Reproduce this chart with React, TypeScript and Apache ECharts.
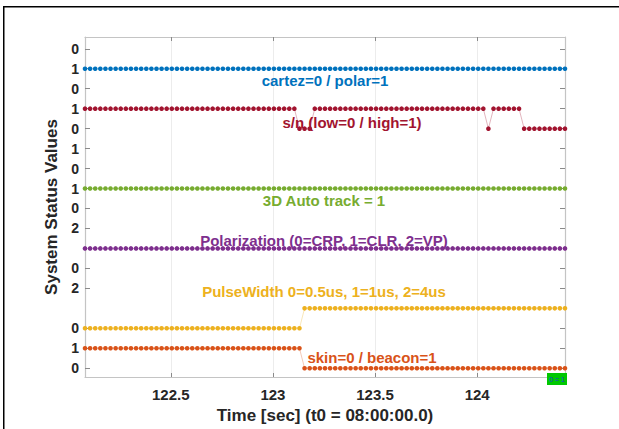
import React, { useEffect, useRef } from "react";
import * as echarts from "echarts";

// Sampling grid (uniform 40 Hz status samples)
const T_START = 122.08;
const T_STEP = 0.025;
const N_SAMPLES = 95;

// Status values as run-lengths: [value, number of samples]
const cartezPolarRuns: [number, number][] = [[1, 95]];
const snRuns: [number, number][] = [[1, 42], [0, 3], [1, 34], [0, 1], [1, 6], [0, 9]];
const autoTrackRuns: [number, number][] = [[1, 95]];
const polarizationRuns: [number, number][] = [[1, 95]];
const pulseWidthRuns: [number, number][] = [[0, 43], [1, 52]];
const skinBeaconRuns: [number, number][] = [[1, 43], [0, 52]];

// Stack offsets of each status trace on the shared axis
const seriesNames = ["cartez/polar", "s/n", "3D Auto track", "Polarization", "PulseWidth", "skin/beacon"];
const seriesOffsets = [14, 12, 8, 5, 2, 0];
const seriesColors = ["#0072BD", "#A2142F", "#77AC30", "#7E2F8E", "#EDB120", "#D95319"];

// Y tick positions and their labels
const yTickValues = [0, 1, 2, 4, 5, 7, 8, 9, 10, 11, 12, 13, 14, 15, 16];
const yTickLabels = ["0", "1", "0", "2", "0", "2", "0", "1", "0", "1", "0", "1", "0", "1", "0"];

// X ticks
const xTickValues = [122.5, 123, 123.5, 124];
const xTickLabels = ["122.5", "123", "123.5", "124"];

// Annotations
const annotationTexts = [
  "cartez=0 / polar=1",
  "s/n (low=0 / high=1)",
  "3D Auto track = 1",
  "Polarization (0=CRP, 1=CLR, 2=VP)",
  "PulseWidth 0=0.5us, 1=1us, 2=4us",
  "skin=0 / beacon=1",
];

const times: number[] = [];
for (let i = 0; i < N_SAMPLES; i++) times.push(+(T_START + i * T_STEP).toFixed(3));

function expandRuns(runs: [number, number][]): number[] {
  const out: number[] = [];
  runs.forEach(([v, n]) => {
    for (let k = 0; k < n; k++) out.push(v);
  });
  return out;
}

const allValues = [
  expandRuns(cartezPolarRuns),
  expandRuns(snRuns),
  expandRuns(autoTrackRuns),
  expandRuns(polarizationRuns),
  expandRuns(pulseWidthRuns),
  expandRuns(skinBeaconRuns),
];

const FONT = "'Liberation Sans', Arial, Helvetica, sans-serif";

export default function App() {
  const ref = useRef<HTMLDivElement>(null);

  useEffect(() => {
    if (!ref.current) return;
    const chart = echarts.init(ref.current, undefined, { renderer: "svg" });

    const axisLineStyle = { color: "#c4c4c4", width: 1.2 };
    const tickStyle = { color: "#8a8a8a", width: 1 };

    const series: any[] = allValues.map((vals, si) => ({
      name: seriesNames[si],
      type: "line",
      data: times.map((t, i) => [t, vals[i] + seriesOffsets[si]]),
      symbol: "circle",
      symbolSize: 4.6,
      showSymbol: true,
      itemStyle: { color: seriesColors[si] },
      lineStyle: { color: seriesColors[si], width: 0.7, opacity: 0.45 },
      emphasis: { disabled: true },
      z: 3,
    }));

    const annoPos = [
      [325, 80],
      [352, 122],
      [324, 200],
      [324, 240],
      [324, 291],
      [372, 357],
    ];

    const graphics: any[] = annotationTexts.map((txt, i) => ({
      type: "text",
      x: annoPos[i][0],
      y: annoPos[i][1],
      silent: true,
      z: 10,
      style: {
        text: txt,
        fill: seriesColors[i],
        font: `bold 15px ${FONT}`,
        textAlign: "center",
        textVerticalAlign: "middle",
      },
    }));

    graphics.push({
      type: "rect",
      silent: true,
      z: 1,
      shape: { x: 3.75, y: 6.75, width: 800, height: 600 },
      style: { fill: "none", stroke: "#000", lineWidth: 1.5 },
    });
    graphics.push({
      type: "rect",
      silent: true,
      z: 11,
      shape: { x: 547, y: 373, width: 20, height: 12 },
      style: { fill: "#00C800", stroke: "none" },
    });
    graphics.push({
      type: "text",
      silent: true,
      z: 12,
      x: 557,
      y: 379.5,
      style: {
        text: "0 = 1",
        fill: "#1a3bd6",
        font: `7px ${FONT}`,
        textAlign: "center",
        textVerticalAlign: "middle",
      },
    });

    chart.setOption({
      animation: false,
      backgroundColor: "#ffffff",
      grid: { left: 85, top: 37, width: 480, height: 345, containLabel: false },
      xAxis: [
        {
          type: "value",
          position: "bottom",
          min: times[0],
          max: times[times.length - 1],
          name: "Time [sec] (t0 = 08:00:00.0)",
          nameLocation: "middle",
          nameGap: 30,
          nameTextStyle: { fontFamily: FONT, fontWeight: "bold", fontSize: 17, color: "#262626" },
          axisLine: { show: true, onZero: false, lineStyle: axisLineStyle },
          axisTick: { show: true, inside: true, length: 4, lineStyle: tickStyle, customValues: xTickValues },
          axisLabel: {
            customValues: xTickValues,
            formatter: (v: number) => xTickLabels[xTickValues.indexOf(+v)] ?? "",
            fontFamily: FONT,
            fontWeight: "bold",
            fontSize: 15,
            color: "#262626",
            margin: 10,
          },
          splitLine: { show: true, lineStyle: { color: "#ececec", width: 1 } },
        },
        {
          type: "value",
          position: "top",
          min: times[0],
          max: times[times.length - 1],
          axisLine: { show: true, onZero: false, lineStyle: axisLineStyle },
          axisTick: { show: true, inside: true, length: 4, lineStyle: tickStyle, customValues: xTickValues },
          axisLabel: { show: false },
          splitLine: { show: false },
        },
      ],
      yAxis: [
        {
          type: "value",
          position: "left",
          min: -0.44,
          max: 16.59,
          name: "System Status Values",
          nameLocation: "middle",
          nameGap: 20,
          nameTextStyle: { fontFamily: FONT, fontWeight: "bold", fontSize: 17, color: "#262626" },
          axisLine: { show: true, onZero: false, lineStyle: axisLineStyle },
          axisTick: { show: true, inside: true, length: 5, lineStyle: tickStyle, customValues: yTickValues },
          axisLabel: {
            customValues: yTickValues,
            formatter: (v: number) => yTickLabels[yTickValues.indexOf(+v)] ?? "",
            fontFamily: FONT,
            fontWeight: "bold",
            fontSize: 14,
            color: "#262626",
            margin: 6,
          },
          splitLine: { show: false },
        },
        {
          type: "value",
          position: "right",
          min: -0.44,
          max: 16.59,
          axisLine: { show: true, onZero: false, lineStyle: axisLineStyle },
          axisTick: { show: true, inside: true, length: 5, lineStyle: tickStyle, customValues: yTickValues },
          axisLabel: { show: false },
          splitLine: { show: false },
        },
      ],
      series,
      graphic: graphics,
    });

    return () => chart.dispose();
  }, []);

  return (
    <div
      ref={ref}
      style={{ position: "fixed", left: 0, top: 0, width: 619, height: 429, background: "#fff" }}
    />
  );
}
